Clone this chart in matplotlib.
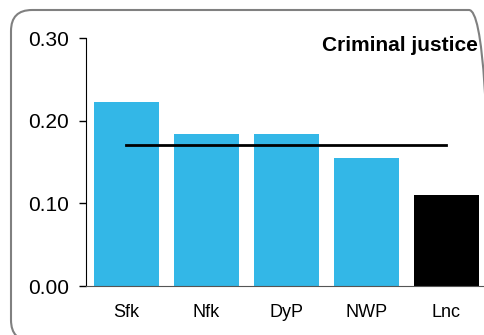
import matplotlib
matplotlib.use('Agg')

import matplotlib.pyplot as plt
from matplotlib.patches import FancyBboxPatch
from matplotlib.transforms import IdentityTransform

plt.rcParams['font.family'] = ['Liberation Sans', 'DejaVu Sans']

areas = ['Sfk', 'Nfk', 'DyP', 'NWP', 'Lnc']
values = [0.222, 0.184, 0.184, 0.155, 0.110]
colors = ['#33B7E7', '#33B7E7', '#33B7E7', '#33B7E7', '#000000']
average = 0.1705
title = 'Criminal justice'

fig = plt.figure(figsize=(4.84, 3.35), dpi=100)

# rounded frame around the whole chart (pixel coords, partly off the picture)
frame = FancyBboxPatch((11, -6), 479, 331,
                       boxstyle='round,pad=0,rounding_size=21',
                       transform=IdentityTransform(), facecolor='none',
                       edgecolor='#808080', linewidth=1.5, zorder=0)
fig.patches.append(frame)

ax = fig.add_axes([86 / 484, 1 - 286 / 335, 1 - 86 / 484, (286 - 38) / 335])
x = range(len(areas))
ax.bar(x, values, width=0.81, color=colors, zorder=2)
ax.plot([0, len(areas) - 1], [average, average], color='black', linewidth=2, zorder=3)

ax.set_xlim(-0.506, 4.47)
ax.set_ylim(0, 0.30)
ax.set_yticks([0.0, 0.1, 0.2, 0.3])
ax.set_yticklabels(['0.00', '0.10', '0.20', '0.30'])
ax.set_xticks(list(x))
ax.set_xticklabels(areas)

ax.tick_params(axis='y', length=5, width=1, direction='out', pad=7, labelsize=15)
ax.tick_params(axis='x', length=0, pad=13, labelsize=13)

ax.spines['top'].set_visible(False)
ax.spines['right'].set_visible(False)
ax.spines['left'].set_color('black')
ax.spines['bottom'].set_color('#555555')
ax.patch.set_alpha(0)

ax.text(0.985, 0.968, title, transform=ax.transAxes, ha='right', va='center',
        fontsize=15, fontweight='bold')

plt.savefig('out.png', dpi=100)
